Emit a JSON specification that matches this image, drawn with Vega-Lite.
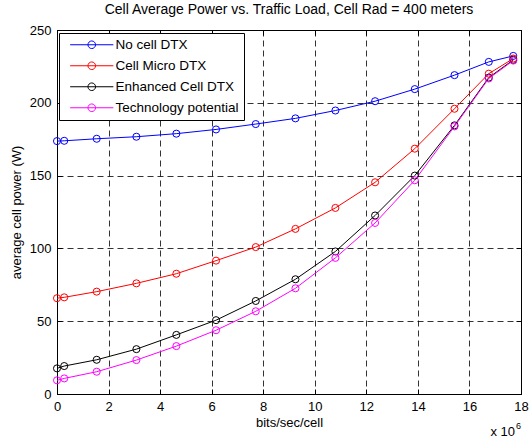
{
  "$schema": "https://vega.github.io/schema/vega-lite/v6.json",
  "width": 464,
  "height": 364,
  "autosize": {"type": "none"},
  "padding": {"left": 57, "top": 30, "right": 8, "bottom": 44},
  "background": "white",
  "title": {
    "text": "Cell Average Power vs. Traffic Load, Cell Rad = 400 meters",
    "fontSize": 14,
    "fontWeight": "normal",
    "font": "Liberation Sans",
    "color": "black",
    "offset": 7
  },
  "config": {
    "font": "Liberation Sans",
    "view": {"stroke": "black", "strokeWidth": 1},
    "axis": {
      "labelFont": "Liberation Sans",
      "labelFontSize": 13,
      "labelColor": "black",
      "titleFont": "Liberation Sans",
      "titleFontSize": 13,
      "titleFontWeight": "normal",
      "titleColor": "black",
      "domainColor": "black",
      "tickColor": "black",
      "gridColor": "black",
      "gridOpacity": 0.8,
      "gridDash": [6, 4]
    }
  },
  "data": {
    "values": [
      {"x": 0, "power": 173.7, "series": "No cell DTX"},
      {"x": 0.28, "power": 173.9, "series": "No cell DTX"},
      {"x": 1.54, "power": 175.3, "series": "No cell DTX"},
      {"x": 3.08, "power": 176.7, "series": "No cell DTX"},
      {"x": 4.63, "power": 178.8, "series": "No cell DTX"},
      {"x": 6.17, "power": 181.7, "series": "No cell DTX"},
      {"x": 7.71, "power": 185.4, "series": "No cell DTX"},
      {"x": 9.25, "power": 189.3, "series": "No cell DTX"},
      {"x": 10.8, "power": 194.7, "series": "No cell DTX"},
      {"x": 12.34, "power": 201.1, "series": "No cell DTX"},
      {"x": 13.88, "power": 209.4, "series": "No cell DTX"},
      {"x": 15.42, "power": 219.0, "series": "No cell DTX"},
      {"x": 16.75, "power": 228.1, "series": "No cell DTX"},
      {"x": 17.7, "power": 232.2, "series": "No cell DTX"},
      {"x": 0, "power": 65.8, "series": "Cell Micro DTX"},
      {"x": 0.28, "power": 66.4, "series": "Cell Micro DTX"},
      {"x": 1.54, "power": 70.3, "series": "Cell Micro DTX"},
      {"x": 3.08, "power": 76.0, "series": "Cell Micro DTX"},
      {"x": 4.63, "power": 82.6, "series": "Cell Micro DTX"},
      {"x": 6.17, "power": 91.6, "series": "Cell Micro DTX"},
      {"x": 7.71, "power": 100.9, "series": "Cell Micro DTX"},
      {"x": 9.25, "power": 113.4, "series": "Cell Micro DTX"},
      {"x": 10.8, "power": 127.8, "series": "Cell Micro DTX"},
      {"x": 12.34, "power": 145.4, "series": "Cell Micro DTX"},
      {"x": 13.88, "power": 168.5, "series": "Cell Micro DTX"},
      {"x": 15.42, "power": 195.9, "series": "Cell Micro DTX"},
      {"x": 16.75, "power": 220.0, "series": "Cell Micro DTX"},
      {"x": 17.7, "power": 230.4, "series": "Cell Micro DTX"},
      {"x": 0, "power": 17.6, "series": "Enhanced Cell DTX"},
      {"x": 0.28, "power": 19.2, "series": "Enhanced Cell DTX"},
      {"x": 1.54, "power": 23.5, "series": "Enhanced Cell DTX"},
      {"x": 3.08, "power": 30.8, "series": "Enhanced Cell DTX"},
      {"x": 4.63, "power": 40.6, "series": "Enhanced Cell DTX"},
      {"x": 6.17, "power": 50.7, "series": "Enhanced Cell DTX"},
      {"x": 7.71, "power": 63.9, "series": "Enhanced Cell DTX"},
      {"x": 9.25, "power": 78.8, "series": "Enhanced Cell DTX"},
      {"x": 10.8, "power": 97.9, "series": "Enhanced Cell DTX"},
      {"x": 12.34, "power": 122.6, "series": "Enhanced Cell DTX"},
      {"x": 13.88, "power": 150.0, "series": "Enhanced Cell DTX"},
      {"x": 15.42, "power": 184.5, "series": "Enhanced Cell DTX"},
      {"x": 16.75, "power": 217.3, "series": "Enhanced Cell DTX"},
      {"x": 17.7, "power": 229.5, "series": "Enhanced Cell DTX"},
      {"x": 0, "power": 9.4, "series": "Technology potential"},
      {"x": 0.28, "power": 10.7, "series": "Technology potential"},
      {"x": 1.54, "power": 15.3, "series": "Technology potential"},
      {"x": 3.08, "power": 23.3, "series": "Technology potential"},
      {"x": 4.63, "power": 32.9, "series": "Technology potential"},
      {"x": 6.17, "power": 43.8, "series": "Technology potential"},
      {"x": 7.71, "power": 56.8, "series": "Technology potential"},
      {"x": 9.25, "power": 72.6, "series": "Technology potential"},
      {"x": 10.8, "power": 93.5, "series": "Technology potential"},
      {"x": 12.34, "power": 117.5, "series": "Technology potential"},
      {"x": 13.88, "power": 146.8, "series": "Technology potential"},
      {"x": 15.42, "power": 183.8, "series": "Technology potential"},
      {"x": 16.75, "power": 216.7, "series": "Technology potential"},
      {"x": 17.7, "power": 229.0, "series": "Technology potential"}
    ]
  },
  "resolve": {"axis": {"x": "independent", "y": "independent"}},
  "layer": [
    {
      "mark": {"type": "line", "strokeWidth": 1, "clip": true},
      "encoding": {
        "x": {
          "field": "x", "type": "quantitative",
          "scale": {"domain": [0, 18], "nice": false, "zero": false},
          "axis": {
            "orient": "bottom",
            "title": "bits/sec/cell",
            "values": [0, 2, 4, 6, 8, 10, 12, 14, 16, 18],
            "tickSize": -5,
            "labelPadding": 11,
            "titlePadding": 3,
            "grid": true,
            "labelFlush": false
          }
        },
        "y": {
          "field": "power", "type": "quantitative",
          "scale": {"domain": [0, 250], "nice": false},
          "axis": {
            "orient": "left",
            "title": "average cell power (W)",
            "values": [0, 50, 100, 150, 200, 250],
            "tickSize": -5,
            "labelPadding": 11,
            "titlePadding": 6,
            "grid": true,
            "labelFlush": false
          }
        },
        "color": {
          "field": "series", "type": "nominal",
          "scale": {
            "domain": ["No cell DTX", "Cell Micro DTX", "Enhanced Cell DTX", "Technology potential"],
            "range": ["#0000ff", "#ff0000", "#000000", "#ff00ff"]
          },
          "legend": {
            "title": null,
            "orient": "none",
            "legendX": 2,
            "legendY": 3,
            "strokeColor": "black",
            "fillColor": "white",
            "padding": 5,
            "symbolOffset": 21,
            "symbolType": "M-5.4,0L5.4,0M-0.95,0A0.95,0.95,0,1,0,0.95,0A0.95,0.95,0,1,0,-0.95,0",
            "symbolSize": 64,
            "symbolStrokeWidth": 1,
            "symbolFillColor": "transparent",
            "labelFont": "Liberation Sans",
            "labelFontSize": 13.5,
            "labelColor": "black",
            "labelOffset": 17,
            "rowPadding": 6
          }
        }
      }
    },
    {
      "mark": {"type": "point", "shape": "circle", "filled": false, "size": 50, "strokeWidth": 1, "opacity": 1},
      "encoding": {
        "x": {"field": "x", "type": "quantitative", "axis": null},
        "y": {"field": "power", "type": "quantitative", "axis": null},
        "color": {"field": "series", "type": "nominal"}
      }
    },
    {
      "mark": {"type": "point", "opacity": 0},
      "encoding": {
        "x": {
          "field": "x", "type": "quantitative",
          "axis": {"orient": "top", "title": null, "labels": false, "values": [0, 2, 4, 6, 8, 10, 12, 14, 16, 18], "tickSize": -5, "grid": false, "domainColor": "black"}
        },
        "y": {
          "field": "power", "type": "quantitative",
          "axis": {"orient": "right", "title": null, "labels": false, "values": [0, 50, 100, 150, 200, 250], "tickSize": -5, "grid": false, "domainColor": "black"}
        }
      }
    },
    {
      "data": {"values": [{"label": "x 10"}]},
      "mark": {"type": "text", "align": "right", "baseline": "middle", "dx": -6, "dy": 38, "fontSize": 13, "font": "Liberation Sans", "color": "black"},
      "encoding": {
        "text": {"field": "label"},
        "x": {"datum": 18, "type": "quantitative", "axis": null},
        "y": {"datum": 0, "type": "quantitative", "axis": null}
      }
    },
    {
      "data": {"values": [{"label": "6"}]},
      "mark": {"type": "text", "align": "left", "baseline": "middle", "dx": -5, "dy": 32, "fontSize": 9, "font": "Liberation Sans", "color": "black"},
      "encoding": {
        "text": {"field": "label"},
        "x": {"datum": 18, "type": "quantitative", "axis": null},
        "y": {"datum": 0, "type": "quantitative", "axis": null}
      }
    }
  ]
}
